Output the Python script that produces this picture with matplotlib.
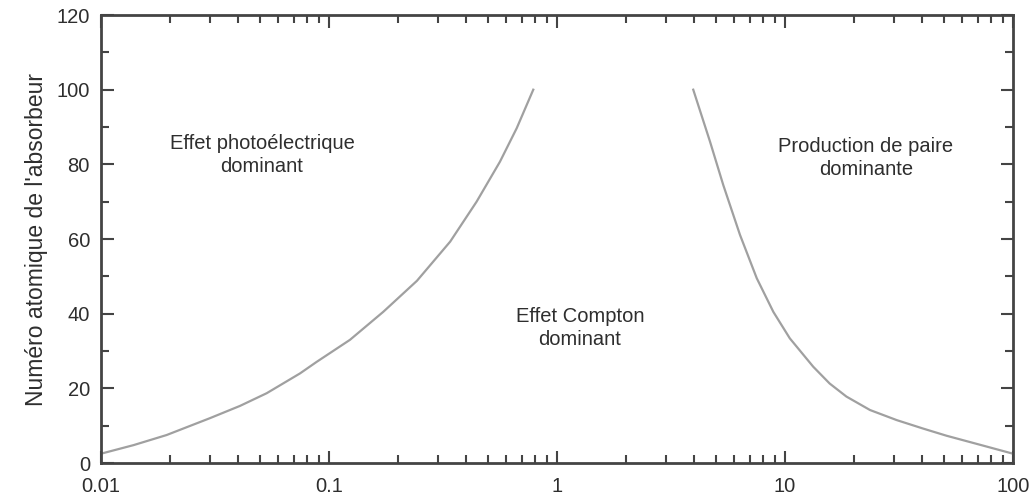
import matplotlib.pyplot as plt
from matplotlib.ticker import LogLocator, MultipleLocator, FixedLocator, FixedFormatter

plt.rcParams["font.family"] = ["Liberation Sans", "DejaVu Sans"]

# Photoelectric / Compton boundary (energy in MeV, atomic number Z)
photo_energy = [0.01, 0.0139, 0.0194, 0.030, 0.0407, 0.0533, 0.0746, 0.0883,
                0.1236, 0.173, 0.243, 0.340, 0.444, 0.562, 0.666, 0.787]
photo_z = [2.5, 4.8, 7.5, 12.0, 15.3, 18.7, 24.0, 27.1,
           33.0, 40.5, 48.8, 59.3, 70.0, 80.7, 89.7, 100]

# Compton / pair production boundary
pair_energy = [3.96, 4.69, 5.36, 6.35, 7.52, 8.89, 10.5, 13.3, 15.7,
               18.6, 23.6, 30.9, 40.5, 51.2, 71.6, 100]
pair_z = [100, 86.1, 74.5, 61.1, 49.5, 40.5, 33.4, 25.8, 21.3,
          17.8, 14.2, 11.5, 9.2, 7.3, 4.9, 2.5]

x_ticks = [0.01, 0.1, 1, 10, 100]
x_labels = ["0.01", "0.1", "1", "10", "100"]

fig = plt.figure(figsize=(10.35, 5.04), dpi=100)
ax = fig.add_axes([0.0976, 0.0813, 0.8811, 0.8889])

line_color = "#a0a0a0"
ax.plot(photo_energy, photo_z, color=line_color, lw=1.6, solid_joinstyle="round")
ax.plot(pair_energy, pair_z, color=line_color, lw=1.6, solid_joinstyle="round")

ax.set_xscale("log")
ax.set_xlim(0.01, 100)
ax.set_ylim(0, 120)

ax.xaxis.set_major_locator(FixedLocator(x_ticks))
ax.xaxis.set_major_formatter(FixedFormatter(x_labels))
ax.xaxis.set_minor_locator(LogLocator(base=10, subs=range(2, 10)))
ax.yaxis.set_major_locator(MultipleLocator(20))
ax.yaxis.set_minor_locator(MultipleLocator(10))

text_color = "#2e2e2e"
ax.tick_params(which="both", direction="in", top=True, right=True,
               color="#444444", width=1.5, labelsize=14.5, labelcolor=text_color)
ax.tick_params(which="major", length=9)
ax.tick_params(which="minor", length=6)
ax.tick_params(axis="x", pad=10)
ax.tick_params(axis="y", pad=8)

for spine in ax.spines.values():
    spine.set_color("#444444")
    spine.set_linewidth(2)

ax.set_ylabel("Numéro atomique de l'absorbeur", fontsize=16.5, color=text_color, labelpad=6)

label_kw = dict(fontsize=14.5, color=text_color, ha="center", va="center", linespacing=1.25)
ax.text(0.0508, 82.5, "Effet photoélectrique\ndominant", **label_kw)
ax.text(1.26, 36.2, "Effet Compton\ndominant", **label_kw)
ax.text(22.6, 81.7, "Production de paire\ndominante", **label_kw)

fig.savefig("out.png", dpi=100)
plt.close(fig)
